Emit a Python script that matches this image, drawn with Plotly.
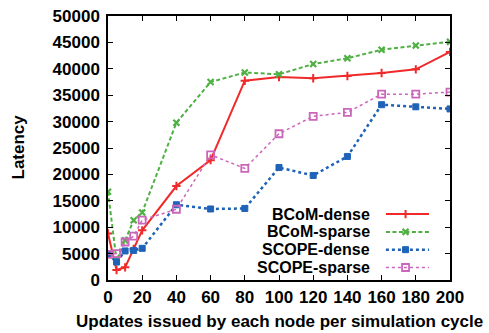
import plotly.graph_objects as go

x_vals = [0, 5, 10, 15, 20, 40, 60, 80, 100, 120, 140, 160, 180, 200]
bcom_dense = [8800, 1900, 2400, 5900, 9400, 17800, 22700, 37750, 38450, 38200, 38650, 39200, 39900, 43200]
bcom_sparse = [16700, 3700, 7500, 11300, 12800, 29800, 37500, 39300, 38950, 40900, 42000, 43600, 44400, 45100]
scope_dense = [4850, 3400, 5500, 5600, 6000, 14250, 13450, 13550, 21300, 19800, 23400, 33200, 32800, 32400]
scope_sparse = [4850, 5000, 7200, 8300, 11350, 13400, 23700, 21150, 27700, 31000, 31750, 35200, 35200, 35600]
series_names = ["BCoM-dense", "BCoM-sparse", "SCOPE-dense", "SCOPE-sparse"]
x_ticks = list(range(0, 201, 20))
y_ticks = list(range(0, 50001, 5000))

styles = [
    dict(color="#f02a2a", dash="solid", width=2, symbol="cross-thin", msize=6, mline=2),
    dict(color="#4fb043", dash="4px,2.5px", width=2, symbol="x-thin", msize=6, mline=2.2),
    dict(color="#1f63b8", dash="dot", width=2.5, symbol="square", msize=6, mline=1),
    dict(color="#cc66bb", dash="dot", width=1.5, symbol="square-open", msize=7, mline=1.8),
]
all_series = [bcom_dense, bcom_sparse, scope_dense, scope_sparse]

FONT = "Liberation Sans, Arial, sans-serif"
FS = 17
KEY_FS = 16
fig = go.Figure()
for name, ys, st in zip(series_names, all_series, styles):
    fig.add_trace(go.Scatter(
        x=x_vals, y=ys, mode="lines+markers", name=name, showlegend=False,
        line=dict(color=st["color"], dash=st["dash"], width=st["width"]),
        marker=dict(symbol=st["symbol"], size=st["msize"], color=st["color"],
                    line=dict(color=st["color"], width=st["mline"])),
    ))

# manual key (gnuplot style: text right-aligned, sample on the right)
key_rows = [0.2496, 0.1822, 0.1148, 0.0473]
for name, st, ky in zip(series_names, styles, key_rows):
    fig.add_trace(go.Scatter(
        x=[0.8126, 0.870, 0.9385], y=[ky, ky, ky], xaxis="x2", yaxis="y2",
        mode="lines", showlegend=False, hoverinfo="skip",
        line=dict(color=st["color"], dash=st["dash"], width=st["width"]),
    ))
    fig.add_trace(go.Scatter(
        x=[0.870], y=[ky], xaxis="x2", yaxis="y2",
        mode="markers", showlegend=False, hoverinfo="skip",
        marker=dict(symbol=st["symbol"], size=st["msize"], color=st["color"],
                    line=dict(color=st["color"], width=st["mline"])),
    ))
    fig.add_annotation(
        x=0.7716, y=ky, xref="x2", yref="y2", text=name, showarrow=False,
        xanchor="right", yanchor="middle",
        font=dict(family=FONT, size=KEY_FS, color="black", weight="bold"),
    )

# axis titles
fig.add_annotation(
    x=0.5, y=0, xref="paper", yref="paper", yshift=-41,
    text="Updates issued by each node per simulation cycle", showarrow=False,
    xanchor="center", yanchor="middle",
    font=dict(family=FONT, size=FS, color="black", weight="bold"),
)
fig.add_annotation(
    x=0, y=0.5, xref="paper", yref="paper", xshift=-90.5, yshift=1,
    text="Latency", showarrow=False, textangle=-90,
    xanchor="center", yanchor="middle",
    font=dict(family=FONT, size=FS, color="black", weight="bold"),
)

axis_common = dict(
    showline=True, linecolor="black", linewidth=1.5, mirror="ticks",
    ticks="inside", ticklen=5, tickwidth=1, tickcolor="black",
    showgrid=False, zeroline=False, automargin=False,
    tickfont=dict(family=FONT, size=FS, color="black", weight="bold"),
)
fig.update_layout(
    width=489, height=333,
    margin=dict(l=108, r=39, t=16, b=53),
    paper_bgcolor="white", plot_bgcolor="white",
    xaxis=dict(range=[0, 200], tickvals=x_ticks, ticktext=[str(v) for v in x_ticks],
               ticklabelstandoff=1, **axis_common),
    yaxis=dict(range=[0, 50000], tickvals=y_ticks, ticktext=[str(v) for v in y_ticks],
               ticklabelstandoff=3, **axis_common),
    xaxis2=dict(range=[0, 1], overlaying="x", visible=False, domain=[0, 1]),
    yaxis2=dict(range=[0, 1], overlaying="y", visible=False),
)
fig.write_html("out.html")
